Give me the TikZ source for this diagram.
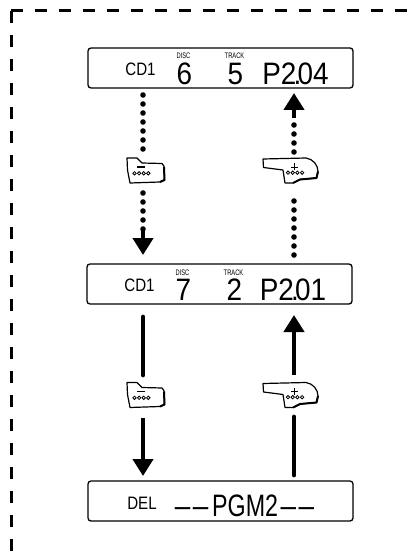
\documentclass[tikz,border=0pt]{standalone}
\usepackage{fontspec}
\setmainfont{Liberation Sans}
\newfontfamily\lcdbig[FakeStretch=0.9]{Liberation Sans}
\newfontfamily\lcdpgm[FakeStretch=0.75]{Liberation Sans}
\newfontfamily\lcdmid[FakeStretch=0.84]{Liberation Sans}
\newfontfamily\lcdtiny[FakeStretch=0.72]{Liberation Sans}
\usetikzlibrary{arrows.meta}
\tikzset{
  display/.style={draw, line width=1.3pt, rounded corners=3pt, minimum width=265pt, minimum height=40pt, inner sep=0pt},
  bigtxt/.style={anchor=base, inner sep=0pt, font=\lcdbig\fontsize{31}{31}\selectfont},
  pgmtxt/.style={anchor=base, inner sep=0pt, font=\lcdpgm\fontsize{31}{31}\selectfont},
  midtxt/.style={anchor=base, inner sep=0pt, font=\lcdmid\fontsize{18}{18}\selectfont},
  tinytxt/.style={anchor=base, inner sep=0pt, font=\lcdtiny\fontsize{8}{8}\selectfont},
  solidarrow/.style={line width=4.8pt, line cap=round},
  dotline/.style={line width=5.6pt, line cap=round, dash pattern=on 0pt off 9pt},
  bighead/.style={line width=4.8pt, -{Triangle[length=17pt,width=20pt]}},
  frame/.style={line width=3pt, dash pattern=on 12pt off 12pt},
  minusbtn/.pic={
    \fill[white] (-16,-12) rectangle (21,13);
    \draw[line width=1.2pt, line join=round] (-16,-12) -- (-6,-12) -- (-1,-7) -- (19,-6.5) .. controls (21,-5) and (21,-3) .. (21,-3) -- (21.5,10) -- (17,12) -- (-13,13) -- (-15.5,0) -- cycle;
    \draw[line width=2pt, line join=round] (21,-3) -- (21.5,10) -- (17,12);
    \draw[line width=1.8pt] (-6,-3) -- (2,-3);
    \foreach \i in {0,1,2,3} \draw[line width=.8pt] (-8.5+\i*4.6,3.3) circle (1.7);
  },
  plusbtn/.pic={
    \fill[white] (-30,-12) rectangle (25,13);
    \draw[line width=1.2pt, line join=round] (-30,-11) -- (13,-12) .. controls (20,-11) and (25,-5) .. (25,1.5) -- (23.5,8) -- (7,9.5) -- (0,13) -- (-8,13) -- (-10,0) -- (-29.5,-2.5) -- cycle;
    \draw[line width=2pt, line join=round] (25,1.5) -- (23.5,8) -- (7,9.5) -- (0,13);
    \draw[line width=.9pt] (1.7,-6.5) -- (1.7,.5) (-2,-3) -- (5.4,-3);
    \foreach \i in {0,1,2,3} \draw[line width=.8pt] (-5+\i*4.7,2.7) circle (1.7);
  }
}
\begin{document}
\begin{tikzpicture}[x=1pt, y=-1pt]
\useasboundingbox (0,0) rectangle (419,553);

% Dashed frame
\coordinate (corner) at (11,11);
\coordinate (frameright) at (419,11);
\coordinate (framebottom) at (11,553);
\draw[frame] (corner) -- (frameright);
\draw[frame] (corner) -- (framebottom);

% Displays
\node[display] (dispA) at (220.5,68) {};
\node[display] (dispB) at (219.5,284) {};
\node[display] (dispC) at (220.5,501) {};

% Top display
\node[midtxt] (cdA) at (140.5,76) {CD1};
\node[tinytxt] (discA) at (183.5,59) {DISC};
\node[tinytxt] (trackA) at (234.5,59) {TRACK};
\node[bigtxt] (numA) at (184.5,85) {6};
\node[bigtxt] (numtA) at (235.5,85) {5};
\node[bigtxt] (progA) at (295.5,85) {P2\kern-.09em.\kern-.12em04};

% Middle display
\node[midtxt] (cdB) at (139.5,291.5) {CD1};
\node[tinytxt] (discB) at (182.5,275) {DISC};
\node[tinytxt] (trackB) at (233.5,275) {TRACK};
\node[bigtxt] (numB) at (183.5,300) {7};
\node[bigtxt] (numtB) at (234.5,300) {2};
\node[bigtxt] (progB) at (293,300) {P2\kern-.09em.\kern-.12em01};

% Bottom display
\node[midtxt] (delC) at (142,509) {DEL};
\node[pgmtxt] (pgmC) at (244.5,516.5) {{\lcdbig –\kern.08em–}\kern.12em PGM2\kern.08em{\lcdbig –\kern.08em–}};

% Buttons
\node[inner sep=0pt, minimum width=38pt, minimum height=26pt] (minusA) at (145.5,170.5) {};
\path (143,170) pic {minusbtn};
\node[inner sep=0pt, minimum width=55pt, minimum height=26pt] (plusA) at (290.5,170.5) {};
\path (293,170) pic {plusbtn};
\node[inner sep=0pt, minimum width=38pt, minimum height=26pt] (minusB) at (145.5,394.5) {};
\path (143,394.5) pic {minusbtn};
\node[inner sep=0pt, minimum width=55pt, minimum height=26pt] (plusB) at (290.5,394.5) {};
\path (293,394.5) pic {plusbtn};

% Left column, upper
\coordinate (lA1) at (143,95);
\coordinate (lA2) at (143,150);
\coordinate (lA3) at (143,193);
\coordinate (lA4) at (143,229);
\coordinate (lA5) at (143,255);
\draw[dotline] (lA1) -- (lA2);
\draw[dotline] (lA3) -- (lA4);
\draw[bighead] (lA4) -- (lA5);

% Right column, upper
\coordinate (rA1) at (294,255);
\coordinate (rA2) at (294,196);
\coordinate (rA3) at (294,152);
\coordinate (rA4) at (294,125);
\coordinate (rA5) at (294,118);
\coordinate (rA6) at (294,93);
\draw[dotline] (rA1) -- (rA2);
\draw[dotline] (rA3) -- (rA4);
\draw[bighead] (rA5) -- (rA6);

% Left column, lower
\coordinate (lB1) at (143,317);
\coordinate (lB2) at (143,375);
\coordinate (lB3) at (143,418);
\coordinate (lB4) at (143,476);
\draw[solidarrow] (lB1) -- (lB2);
\draw[bighead] (lB3) -- (lB4);

% Right column, lower
\coordinate (rB1) at (294,475);
\coordinate (rB2) at (294,417);
\coordinate (rB3) at (294,375);
\coordinate (rB4) at (294,315);
\draw[solidarrow] (rB1) -- (rB2);
\draw[bighead] (rB3) -- (rB4);
\end{tikzpicture}
\end{document}
